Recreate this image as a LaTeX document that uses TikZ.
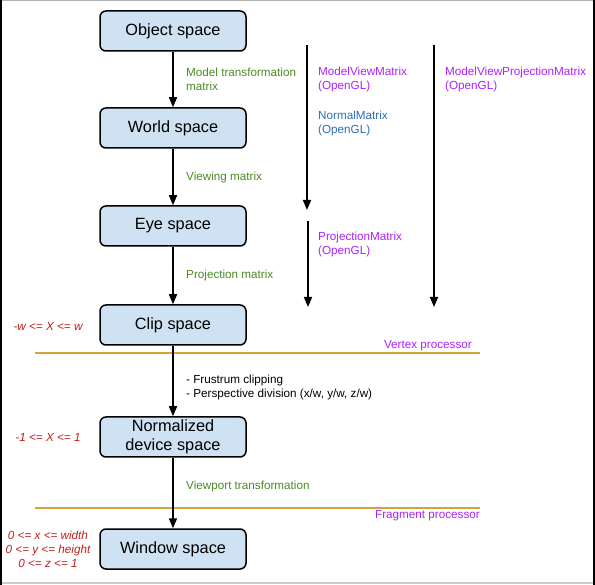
\documentclass[tikz,border=0pt]{standalone}
\usepackage{fontspec}
\setmainfont{Liberation Sans}
\usetikzlibrary{arrows.meta,positioning,calc}
\definecolor{boxblue}{HTML}{CFE2F3}
\definecolor{matgreen}{HTML}{4A8A24}
\definecolor{glpurple}{HTML}{AA22FF}
\definecolor{glblue}{HTML}{2E6DB4}
\definecolor{rangered}{HTML}{C0201A}
\definecolor{stagegold}{HTML}{D4A437}

\tikzset{
 space/.style={draw,line width=1.5pt,rounded corners=6pt,fill=boxblue,
 minimum width=146pt,minimum height=40pt,inner sep=0pt,align=center,
 font=\fontsize{16.3}{19}\selectfont},
 flow/.style={line width=1.5pt,-{Triangle[length=10pt,width=8pt]}},
 steplabel/.style={anchor=west,inner sep=0pt,align=left,font=\fontsize{11.7}{14}\selectfont},
 rangelabel/.style={inner sep=0pt,align=center,text=rangered,font=\fontsize{11.7}{14}\selectfont\itshape},
 stage/.style={line width=2.5pt,stagegold},
}

\begin{document}
\begin{tikzpicture}[x=1pt,y=-1pt]
 \useasboundingbox (0,0) rectangle (595,585);
 \draw[gray!60,line width=1.5pt] (0,0.75)--(595,0.75);
 \draw[gray!40,line width=1.5pt] (0,583)--(595,583);
 \draw[line width=2pt] (1,0)--(1,585);
 \draw[line width=2.5pt] (593.75,0)--(593.75,585);

 % the spaces
 \node[space] (obj) at (173,31) {Object space};
 \node[space] (world) at (173,128) {World space};
 \node[space] (eye) at (173,226) {Eye space};
 \node[space] (clip) at (173,325) {Clip space};
 \node[space] (ndc) at (173,437) {Normalized\\device space};
 \node[space] (win) at (173,549) {Window space};

 % processor borders
 \coordinate (vp-l) at (35,353);
 \coordinate (vp-r) at (480,353);
 \coordinate (fp-l) at (35,508);
 \coordinate (fp-r) at (480,508);
 \draw[stage] (vp-l) -- (vp-r);
 \draw[stage] (fp-l) -- (fp-r);
 \node[anchor=east,inner sep=0pt,text=glpurple,font=\fontsize{11.7}{14}\selectfont]
 (vp) at (472,346) {Vertex processor};
 \node[anchor=east,inner sep=0pt,text=glpurple,font=\fontsize{11.7}{14}\selectfont]
 (fp) at (480,516) {Fragment processor};

 \draw[flow] (obj) -- (world);
 \draw[flow] (world) -- (eye);
 \draw[flow] (eye) -- (clip);
 \draw[flow] (clip) -- (ndc);
 \draw[flow] (ndc) -- (win);

 \node[steplabel,text=matgreen] (model) at (186,79) {Model transformation\\matrix};
 \node[steplabel,text=matgreen] (view) at (186,177) {Viewing matrix};
 \node[steplabel,text=matgreen] (proj) at (186,275) {Projection matrix};
 \node[steplabel] (clipping) at (186,387)
 {- Frustrum clipping\\- Perspective division (x/w, y/w, z/w)};
 \node[steplabel,text=matgreen] (viewport) at (186,486) {Viewport transformation};

 % OpenGL matrices
 \coordinate (mv-top) at (307,45);
 \coordinate (mv-bot) at (307,210);
 \coordinate (pm-top) at (308,221);
 \coordinate (pm-bot) at (308,307);
 \coordinate (mvp-top) at (434,45);
 \coordinate (mvp-bot) at (434,307);
 \draw[flow] (mv-top) -- (mv-bot);
 \draw[flow] (pm-top) -- (pm-bot);
 \draw[flow] (mvp-top) -- (mvp-bot);
 \node[steplabel,text=glpurple] (mv) at (318,79) {ModelViewMatrix\\(OpenGL)};
 \node[steplabel,text=glblue] (nm) at (318,123) {NormalMatrix\\(OpenGL)};
 \node[steplabel,text=glpurple] (pm) at (318,244) {ProjectionMatrix\\(OpenGL)};
 \node[steplabel,text=glpurple] (mvp) at (445,79) {ModelViewProjectionMatrix\\(OpenGL)};

 % ranges
 \node[rangelabel] (clip-range) at (48,326) {-w <= X <= w};
 \node[rangelabel] (ndc-range) at (48,437) {-1 <= X <= 1};
 \node[rangelabel] (win-range) at (48,549) {0 <= x <= width\\0 <= y <= height\\0 <= z <= 1};
\end{tikzpicture}
\end{document}
